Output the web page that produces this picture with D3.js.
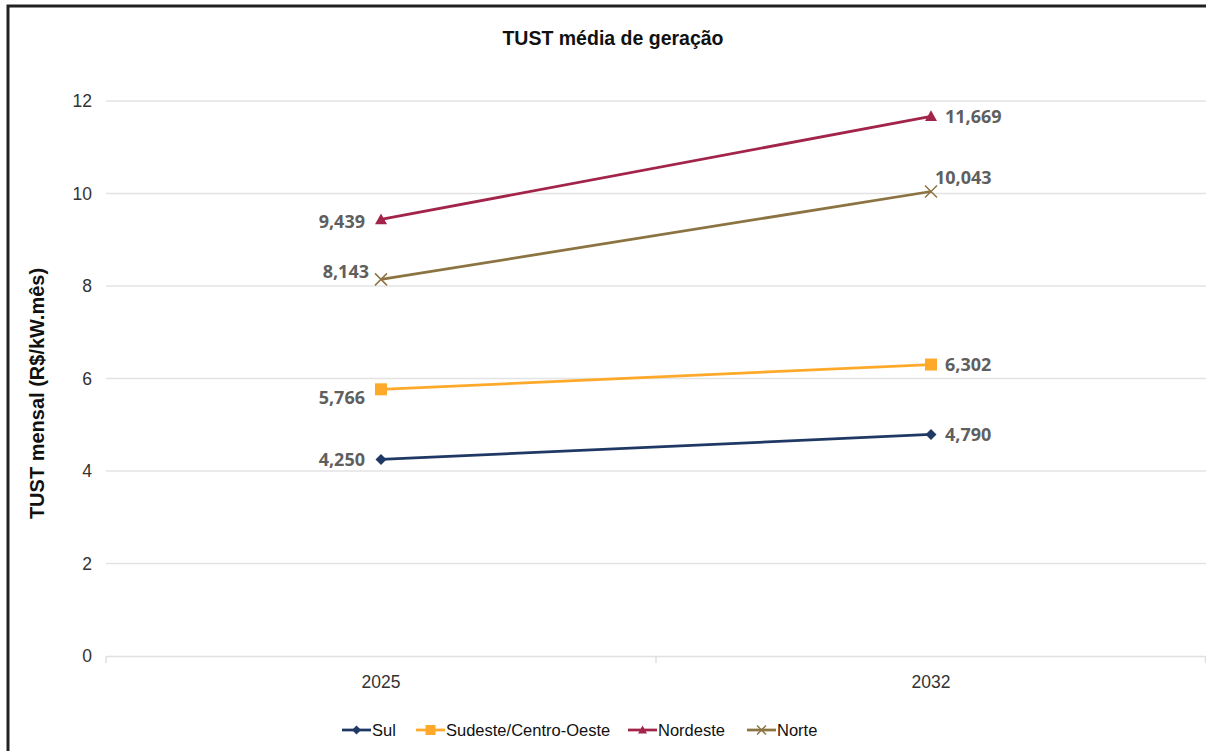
<!DOCTYPE html>
<html>
<head>
<meta charset="utf-8">
<script src="https://cdn.jsdelivr.net/npm/d3@7"></script>
<style>
  html, body { margin: 0; padding: 0; background: #fff; }
  svg { display: block; }
</style>
</head>
<body>
<svg id="chart" width="1206" height="751"></svg>
<script>
// Data
const years = ["2025", "2032"];
const seriesNames = ["Sul", "Sudeste/Centro-Oeste", "Nordeste", "Norte"];
const sulValues = [4.250, 4.790];
const sudesteValues = [5.766, 6.302];
const nordesteValues = [9.439, 11.669];
const norteValues = [8.143, 10.043];
const yTicks = [0, 2, 4, 6, 8, 10, 12];

const colors = ["#1f3864", "#ffa92b", "#a3244b", "#8c7442"];
const markers = ["diamond", "square", "triangle", "cross"];
const seriesValues = [sulValues, sudesteValues, nordesteValues, norteValues];

// label placement per series and point: [dx, dy, anchor]
const labelPos = [
  [[-16, 0, "end"], [14, 0, "start"]],
  [[-16, 8, "end"], [14, 0, "start"]],
  [[-16, 2, "end"], [14, 0, "start"]],
  [[-12, -8, "end"], [4, -14, "start"]]
];

const series = seriesNames.map((name, i) => ({
  name, color: colors[i], marker: markers[i],
  values: seriesValues[i].map((v, j) => ({ year: years[j], value: v }))
}));

const svg = d3.select("#chart");
const W = 1206, H = 751;
const sans = "Arial, 'Liberation Sans', sans-serif";

// Frame
svg.append("path")
  .attr("d", `M8,${H} L8,6 L${W},6`)
  .attr("fill", "none").attr("stroke", "#222").attr("stroke-width", 3);

const plot = { left: 106, right: 1206, top: 101, bottom: 656 };

const x = d3.scaleBand().domain(years).range([plot.left, plot.right]);
const y = d3.scaleLinear().domain([0, 12]).range([plot.bottom, plot.top]);

// Title
svg.append("text")
  .attr("x", 613).attr("y", 45)
  .attr("text-anchor", "middle")
  .attr("font-family", sans)
  .attr("font-weight", "bold").attr("font-size", 19.5).attr("fill", "#111")
  .text("TUST média de geração");

// Gridlines
const grid = svg.append("g");
grid.selectAll("line").data(yTicks.filter(t => t > 0)).join("line")
  .attr("x1", plot.left).attr("x2", plot.right)
  .attr("y1", d => y(d)).attr("y2", d => y(d))
  .attr("stroke", "#e3e3e3").attr("stroke-width", 1.5);

// Y axis labels
const yAxis = svg.append("g").attr("transform", `translate(${plot.left},0)`)
  .call(d3.axisLeft(y).tickValues(yTicks).tickSize(0).tickPadding(14).tickFormat(d3.format("d")));
yAxis.select(".domain").remove();
yAxis.selectAll("text")
  .attr("font-family", sans)
  .attr("font-size", 17.5).attr("fill", "#333");

// X axis
const xAxis = svg.append("g").attr("transform", `translate(0,${plot.bottom})`)
  .call(d3.axisBottom(x).tickSize(0).tickPadding(20));
xAxis.select(".domain").attr("stroke", "#e0e0e0").attr("stroke-width", 1.5);
xAxis.selectAll("text")
  .attr("font-family", sans)
  .attr("font-size", 17.5).attr("fill", "#333");
// category separators
svg.append("g").selectAll("line").data([x(years[0]), x(years[1]), plot.right - 0.5]).join("line")
  .attr("x1", d => d).attr("x2", d => d)
  .attr("y1", plot.bottom).attr("y2", plot.bottom + 7)
  .attr("stroke", "#e0e0e0").attr("stroke-width", 1.5);

// Y axis title
svg.append("text")
  .attr("transform", `translate(44,${(plot.top + plot.bottom) / 2 + 15}) rotate(-90)`)
  .attr("text-anchor", "middle")
  .attr("font-family", sans)
  .attr("font-weight", "bold").attr("font-size", 20).attr("fill", "#111")
  .text("TUST mensal (R$/kW.mês)");

function drawMarker(g, type, color, size) {
  const s = size;
  if (type === "diamond") {
    g.append("path").attr("d", `M0,${-s} L${s},0 L0,${s} L${-s},0 Z`).attr("fill", color);
  } else if (type === "square") {
    g.append("rect").attr("x", -s).attr("y", -s).attr("width", 2 * s).attr("height", 2 * s).attr("fill", color);
  } else if (type === "triangle") {
    g.append("path").attr("d", `M0,${-s} L${s},${s * 0.8} L${-s},${s * 0.8} Z`).attr("fill", color);
  } else if (type === "cross") {
    g.append("path").attr("d", `M${-s},${-s} L${s},${s} M${-s},${s} L${s},${-s}`)
      .attr("stroke", color).attr("stroke-width", 1.5).attr("fill", "none");
  }
}

const cx = d => x(d.year) + x.bandwidth() / 2;
const line = d3.line().x(cx).y(d => y(d.value));
const fmt = v => d3.format(".3f")(v).replace(".", ",");

series.forEach((s, i) => {
  svg.append("path").datum(s.values)
    .attr("d", line).attr("fill", "none")
    .attr("stroke", s.color).attr("stroke-width", 2.75);
  s.values.forEach((d, j) => {
    const g = svg.append("g").attr("transform", `translate(${cx(d)},${y(d.value)})`);
    drawMarker(g, s.marker, s.color, s.marker === "diamond" ? 5.5 : 6);
    const [dx, dy, anchor] = labelPos[i][j];
    svg.append("text")
      .attr("x", cx(d) + dx).attr("y", y(d.value) + dy)
      .attr("dy", "0.35em")
      .attr("text-anchor", anchor)
      .attr("font-family", "'Open Sans', Lato, sans-serif")
      .attr("font-weight", "bold").attr("font-size", 18).attr("fill", "#5f5f5f")
      .text(fmt(d.value));
  });
});

// Legend
const legend = svg.append("g").attr("transform", "translate(342,730)");
const legendOffsets = [0, 74, 286, 405];
series.forEach((s, i) => {
  const g = legend.append("g").attr("transform", `translate(${legendOffsets[i]},0)`);
  g.append("line").attr("x1", 0).attr("x2", 29).attr("y1", 0).attr("y2", 0)
    .attr("stroke", s.color).attr("stroke-width", 2.75);
  const mg = g.append("g").attr("transform", "translate(14.5,0)");
  drawMarker(mg, s.marker, s.color, s.marker === "square" ? 5 : 4.5);
  g.append("text").attr("x", 30).attr("y", 0).attr("dy", "0.35em")
    .attr("font-family", sans)
    .attr("font-size", 16.5).attr("fill", "#111")
    .text(s.name);
});
</script>
</body>
</html>
